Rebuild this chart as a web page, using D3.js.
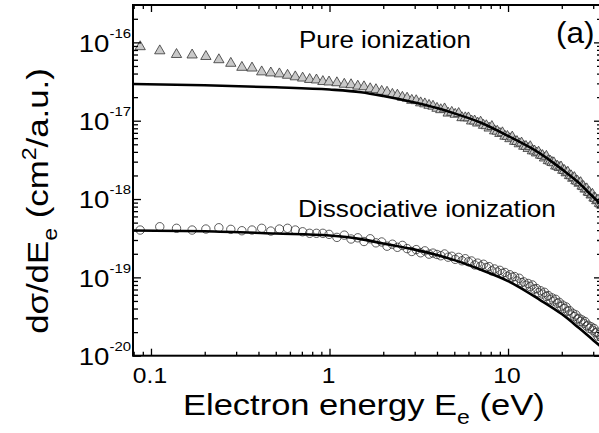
<!DOCTYPE html>
<html><head><meta charset="utf-8">
<script src="https://cdn.jsdelivr.net/npm/d3@7"></script>
<style>
html,body{margin:0;padding:0;background:#fff;}
svg{display:block;}
text{font-family:"Liberation Sans",Arial,Helvetica,sans-serif;fill:#000;}
</style>
</head><body>
<svg id="chart" width="599" height="433"></svg>
<script>
// ---------- data ----------
const energies = [0.087,0.112,0.139,0.170,0.203,0.240,0.280,0.323,0.368,0.417,0.469,0.524,0.582,0.643,0.707,0.774,0.845,0.918,0.994,
1.10,1.21,1.32,1.44,1.56,1.69,1.82,1.96,2.10,2.25,2.40,2.56,2.72,2.89,3.06,3.24,3.42,3.61,3.80,4.00,
4.20,4.41,4.62,4.84,5.06,5.29,5.52,5.76,6.00,6.25,6.50,6.76,7.02,7.29,7.56,7.84,8.12,8.41,8.70,9.00,9.30,9.61,9.92,
10.24,10.56,10.89,11.22,11.56,11.90,12.25,12.60,12.96,13.32,13.69,14.06,14.44,14.82,15.21,15.60,16.0,16.4,16.81,17.22,
17.64,18.06,18.49,18.92,19.36,19.80,20.25,20.70,21.16,21.62,22.09,22.56,23.04,23.52,24.01,24.50,25.0,25.5,26.0,26.5,
27.0,27.6,28.1,28.6,29.2,29.7,30.3,30.8,31.4,31.9,32.5,33.1,33.6];

// pure ionization data, units of 1e-17 cm^2/a.u.
const pureIonization = [8.8,7.8,7.0,6.9,6.6,6.0,5.4,4.8,4.7,4.2,4.07,3.96,3.8,3.63,3.5,3.36,3.31,3.16,3.12,
3.05,2.92,2.88,2.76,2.71,2.56,2.49,2.37,2.31,2.17,2.12,1.99,1.94,1.82,1.80,1.69,1.64,1.57,1.53,1.44,
1.382,1.415,1.250,1.279,1.207,1.236,1.092,1.089,1.086,0.991,0.991,0.932,0.959,0.873,0.863,0.805,0.843,0.741,0.734,0.687,0.701,0.634,0.630,
0.589,0.619,0.545,0.542,0.507,0.519,0.472,0.470,0.442,0.466,0.412,0.411,0.387,0.397,0.363,0.359,0.334,0.351,0.309,0.305,
0.293,0.290,0.264,0.262,0.252,0.257,0.233,0.231,0.216,0.220,0.199,0.198,0.184,0.188,0.171,0.169,0.159,0.162,0.146,0.144,
0.134,0.135,0.1225,0.121,0.1125,0.115,0.103,0.102,0.095,0.097,0.088,0.086,0.083];

// dissociative ionization data, units of 1e-19 cm^2/a.u.
const dissociativeIonization = [4.02,4.43,4.23,4.02,4.14,4.30,4.10,3.94,4.02,4.23,3.90,4.14,4.23,4.02,3.82,3.65,3.65,3.65,3.54,
3.24,3.46,3.09,3.20,2.87,3.11,2.76,2.83,2.50,2.65,2.42,2.56,2.33,2.14,2.26,2.06,2.18,1.98,2.04,1.96,
1.888,1.99,1.81,1.86,1.70,1.80,1.63,1.73,1.58,1.62,1.44,1.52,1.39,1.47,1.34,1.37,1.21,1.28,1.17,1.23,1.125,1.155,1.027,
1.08,1.006,1.024,0.90,0.974,0.858,0.876,0.795,0.836,0.761,0.80,0.707,0.721,0.638,0.675,0.612,0.645,0.570,0.586,0.518,
0.547,0.498,0.525,0.466,0.480,0.424,0.442,0.40,0.419,0.369,0.377,0.331,0.348,0.316,0.332,0.293,0.30,0.273,0.286,0.260,
0.273,0.239,0.245,0.223,0.234,0.212,0.223,0.196,0.20,0.177,0.187,0.173,0.168];

// model curves
const fitEnergies = [0.079,0.2,0.5,1,1.5,2,3,4,5,7,10,15,20,25,30,35];
const pureFit = [2.94,2.83,2.67,2.50,2.31,2.07,1.71,1.45,1.24,0.95,0.64,0.386,0.241,0.160,0.106,0.077];          // 1e-17
const dissociativeFit = [3.96,3.88,3.63,3.42,3.08,2.70,2.26,1.93,1.66,1.258,0.897,0.521,0.340,0.225,0.158,0.118]; // 1e-19

const pureUnit = 1e-17, dissUnit = 1e-19;

const xMajorTicks = [0.1, 1, 10];
const xTickLabels = ["0.1", "1", "10"];
const xMinorTicks = [0.08,0.09,0.2,0.3,0.4,0.5,0.6,0.7,0.8,0.9,2,3,4,5,6,7,8,9,20,30];
const yExponents = [-20,-19,-18,-17,-16];
const yMinorTicks = [];
[-20,-19,-18,-17,-16].forEach(e => { for (let m = 2; m <= 9; m++) { const v = m * Math.pow(10, e); if (v < 3e-16) yMinorTicks.push(v); } });

// ---------- layout ----------
const L = 133, R = 602, T = 5, B = 355.7;
const svg = d3.select("#chart");
const x = d3.scaleLog().domain([0.0793, 33.6]).range([L, R]);
const y = d3.scaleLog().domain([1e-20, 3.0e-16]).range([B, T]);

svg.append("defs").append("clipPath").attr("id","clip")
  .append("rect").attr("x", L).attr("y", T).attr("width", R - L).attr("height", B - T);

const plot = svg.append("g").attr("clip-path","url(#clip)");

// markers
const tri = d3.symbol().type(d3.symbolTriangle).size(46);
plot.append("g").selectAll("path").data(energies.map((e,i)=>[e, pureIonization[i]*pureUnit]))
  .join("path")
  .attr("d", tri)
  .attr("transform", d => `translate(${x(d[0])},${y(d[1])})`)
  .attr("fill", "#c9c9c9").attr("stroke", "#333").attr("stroke-width", 0.8);

plot.append("g").selectAll("circle").data(energies.map((e,i)=>[e, dissociativeIonization[i]*dissUnit]))
  .join("circle")
  .attr("cx", d => x(d[0])).attr("cy", d => y(d[1])).attr("r", 4.2)
  .attr("fill", "none").attr("stroke", "#333").attr("stroke-width", 0.8);

// fit lines
const line = d3.line().x(d => x(d[0])).y(d => y(d[1])).curve(d3.curveMonotoneX);
plot.append("path").datum(fitEnergies.map((e,i)=>[e, pureFit[i]*pureUnit]))
  .attr("d", line).attr("fill","none").attr("stroke","#000").attr("stroke-width",2.6);
plot.append("path").datum(fitEnergies.map((e,i)=>[e, dissociativeFit[i]*dissUnit]))
  .attr("d", line).attr("fill","none").attr("stroke","#000").attr("stroke-width",2.6);

// ---------- axes ----------
function styleAxis(g) {
  g.select(".domain").remove();
  g.selectAll(".tick line").attr("stroke","#000").attr("stroke-width",1.3);
  g.selectAll(".tick text").remove();
}
svg.append("g").attr("transform",`translate(0,${B})`).call(d3.axisBottom(x).tickValues(xMajorTicks).tickSize(-7).tickFormat("")).call(styleAxis);
svg.append("g").attr("transform",`translate(0,${B})`).call(d3.axisBottom(x).tickValues(xMinorTicks).tickSize(-4).tickFormat("")).call(styleAxis);
svg.append("g").attr("transform",`translate(0,${T})`).call(d3.axisTop(x).tickValues(xMajorTicks).tickSize(-7).tickFormat("")).call(styleAxis);
svg.append("g").attr("transform",`translate(0,${T})`).call(d3.axisTop(x).tickValues(xMinorTicks).tickSize(-4).tickFormat("")).call(styleAxis);
const yMajorVals = yExponents.map(e => Math.pow(10, e));
svg.append("g").attr("transform",`translate(${L},0)`).call(d3.axisLeft(y).tickValues(yMajorVals).tickSize(-8).tickFormat("")).call(styleAxis);
svg.append("g").attr("transform",`translate(${L},0)`).call(d3.axisLeft(y).tickValues(yMinorTicks).tickSize(-5).tickFormat("")).call(styleAxis);
svg.append("g").attr("transform",`translate(${R},0)`).call(d3.axisRight(y).tickValues(yMajorVals).tickSize(-8).tickFormat("")).call(styleAxis);
svg.append("g").attr("transform",`translate(${R},0)`).call(d3.axisRight(y).tickValues(yMinorTicks).tickSize(-5).tickFormat("")).call(styleAxis);

svg.append("rect").attr("x",L).attr("y",T).attr("width",R-L).attr("height",B-T)
  .attr("fill","none").attr("stroke","#000").attr("stroke-width",2);

// ---------- text ----------
function txt(px, py, size, anchor, sx, rot) {
  return svg.append("text")
    .attr("transform", `translate(${px},${py})` + (rot ? ` rotate(${rot})` : "") + ` scale(${sx},1)`)
    .attr("font-size", size).attr("text-anchor", anchor);
}

// x tick labels
xMajorTicks.forEach((v,i) => {
  txt(x(v) - 1, 383, 22, "middle", 1.12).text(xTickLabels[i]);
});
// y tick labels
yExponents.forEach(e => {
  const t = txt(131, y(Math.pow(10,e)) + 9.3, 24, "end", 1.15);
  t.append("tspan").text("10");
  t.append("tspan").attr("font-size", 13).attr("dy", -14).text(String(e));
});

// axis titles
const xt = txt(183, 415, 30, "start", 1.15);
xt.append("tspan").text("Electron energy E");
xt.append("tspan").attr("font-size", 20).attr("dy", 9).text("e");
xt.append("tspan").attr("dy", -9).text(" (eV)");

const yt = txt(48, 201, 30, "middle", 1.16, -90);
yt.append("tspan").text("dσ/dE");
yt.append("tspan").attr("font-size", 20).attr("dy", 9).text("e");
yt.append("tspan").attr("dy", -9).text(" (cm");
yt.append("tspan").attr("font-size", 20).attr("dy", -12).text("2");
yt.append("tspan").attr("dy", 12).text("/a.u.)");

// annotations
txt(299, 48, 23, "start", 1.13).text("Pure ionization");
txt(298, 217, 23, "start", 1.14).text("Dissociative ionization");
txt(556, 43, 30, "start", 1.05).text("(a)");
</script>
</body></html>
